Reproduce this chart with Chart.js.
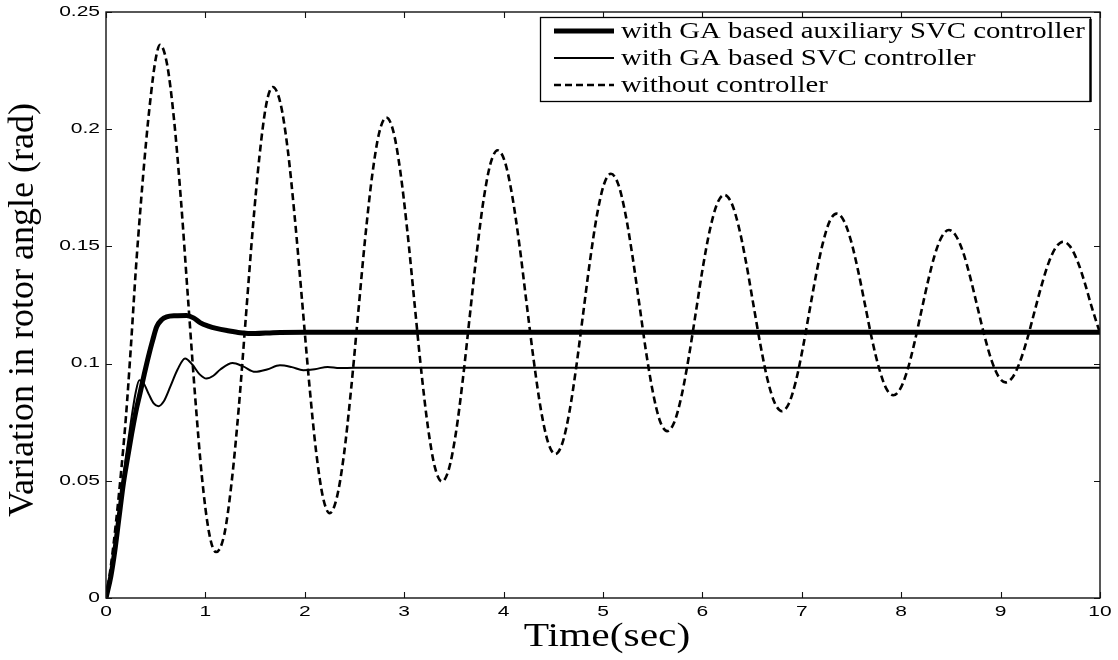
<!DOCTYPE html>
<html>
<head>
<meta charset="utf-8">
<script src="https://cdn.jsdelivr.net/npm/chart.js@4.4.1/dist/chart.umd.min.js"></script>
<style>
  html, body { margin: 0; padding: 0; background: #fff; }
  canvas { display: block; }
</style>
</head>
<body>
<canvas id="c" width="1118" height="660"></canvas>
<script>
// Axis ticks and labels
const xTicks = [0, 1, 2, 3, 4, 5, 6, 7, 8, 9, 10];
const xTickLabels = ['0', '1', '2', '3', '4', '5', '6', '7', '8', '9', '10'];
const yTicks = [0, 0.05, 0.1, 0.15, 0.2, 0.25];
const yTickLabels = ['0', '0.05', '0.1', '0.15', '0.2', '0.25'];
const xTitle = 'Time(sec)';
const yTitle = 'Variation in rotor angle (rad)';
const seriesNames = [
  'with GA based auxiliary SVC controller',
  'with GA based SVC controller',
  'without controller'
];

// Rotor angle deviation with the auxiliary SVC controller
const tAux = [0, 0.05, 0.09, 0.13, 0.175, 0.22, 0.258, 0.3, 0.342, 0.385, 0.426, 0.47, 0.51, 0.56, 0.61, 0.7, 0.81,
  0.88, 0.946, 1.03, 1.11, 1.23, 1.35, 1.5, 1.68, 2.0, 2.5, 3, 4, 5, 6, 7, 8, 9, 10];
const vAux = [0, 0.0095, 0.0205, 0.034, 0.0489, 0.0605, 0.070, 0.0795, 0.0873, 0.0955, 0.1029, 0.110, 0.1157, 0.1187,
  0.1199, 0.1204, 0.1205, 0.1195, 0.1175, 0.1160, 0.1150, 0.1140, 0.1132, 0.1128, 0.1132, 0.1134, 0.1134, 0.1134,
  0.1134, 0.1134, 0.1134, 0.1134, 0.1134, 0.1134, 0.1134];

// Rotor angle deviation with the SVC controller
const tSvc = [0, 0.05, 0.1, 0.15, 0.2, 0.25, 0.3, 0.335, 0.38, 0.43, 0.48, 0.527, 0.58, 0.65, 0.72, 0.795, 0.87, 0.94,
  1.01, 1.08, 1.15, 1.274, 1.38, 1.5, 1.62, 1.75, 1.87, 1.985, 2.1, 2.23, 2.35, 2.5, 3, 4, 5, 6, 7, 8, 9, 10];
const vSvc = [0, 0.011, 0.026, 0.043, 0.06, 0.075, 0.088, 0.0929, 0.0915, 0.087, 0.083, 0.0818, 0.0838, 0.0905, 0.0975,
  0.1022, 0.0995, 0.0955, 0.0936, 0.0948, 0.0975, 0.1003, 0.0988, 0.0965, 0.0975, 0.0993, 0.0985, 0.0972, 0.0976,
  0.0986, 0.0981, 0.0982, 0.0982, 0.0982, 0.0982, 0.0982, 0.0982, 0.0982, 0.0982, 0.0982];

// Rotor angle deviation without any controller
const tNone = [0, 0.05, 0.1, 0.15, 0.2, 0.25, 0.3, 0.35, 0.4, 0.45, 0.5, 0.543,
  0.614, 0.684, 0.755, 0.825, 0.896, 0.966, 1.037, 1.107,
  1.19, 1.262, 1.335, 1.405, 1.475, 1.545, 1.612, 1.677,
  1.755, 1.828, 1.9, 1.972, 2.043, 2.113, 2.182, 2.25,
  2.321, 2.393, 2.464, 2.535, 2.606, 2.678, 2.749, 2.82,
  2.89, 2.96, 3.03, 3.10, 3.17, 3.24, 3.31, 3.38,
  3.45, 3.52, 3.59, 3.66, 3.73, 3.80, 3.87, 3.94,
  4.013, 4.085, 4.158, 4.23, 4.303, 4.375, 4.448, 4.52,
  4.59, 4.66, 4.73, 4.80, 4.87, 4.94, 5.01, 5.08,
  5.151, 5.221, 5.292, 5.363, 5.433, 5.504, 5.574, 5.645,
  5.717, 5.789, 5.861, 5.933, 6.004, 6.076, 6.148, 6.22,
  6.293, 6.365, 6.438, 6.51, 6.583, 6.655, 6.728, 6.80,
  6.869, 6.938, 7.006, 7.075, 7.144, 7.213, 7.281, 7.35,
  7.421, 7.493, 7.564, 7.635, 7.706, 7.778, 7.849, 7.92,
  7.99, 8.06, 8.13, 8.20, 8.27, 8.34, 8.41, 8.48,
  8.551, 8.623, 8.694, 8.765, 8.836, 8.908, 8.979, 9.05,
  9.123, 9.195, 9.268, 9.34, 9.413, 9.485, 9.558, 9.63,
  9.701, 9.772, 9.843, 9.914, 10.0];
const vNone = [0, 0.014, 0.032, 0.053, 0.077, 0.107, 0.14, 0.168, 0.193, 0.214, 0.230, 0.236,
  0.2278, 0.2043, 0.1692, 0.1278, 0.0864, 0.0513, 0.0278, 0.0196,
  0.0271, 0.0487, 0.0808, 0.1188, 0.1568, 0.1889, 0.2105, 0.218,
  0.2111, 0.1914, 0.1619, 0.1271, 0.0923, 0.0628, 0.0431, 0.0362,
  0.0426, 0.0609, 0.0883, 0.1206, 0.1529, 0.1803, 0.1986, 0.205,
  0.1992, 0.1823, 0.1572, 0.1274, 0.0976, 0.0725, 0.0556, 0.0497,
  0.0551, 0.0704, 0.0933, 0.1204, 0.1474, 0.1703, 0.1856, 0.191,
  0.1861, 0.1720, 0.1510, 0.1262, 0.1014, 0.0804, 0.0663, 0.0614,
  0.0659, 0.0789, 0.0983, 0.1212, 0.1441, 0.1635, 0.1765, 0.181,
  0.1768, 0.1649, 0.1471, 0.1261, 0.1051, 0.0873, 0.0754, 0.0712,
  0.0750, 0.0860, 0.1023, 0.1216, 0.1409, 0.1572, 0.1682, 0.172,
  0.1685, 0.1585, 0.1435, 0.1259, 0.1082, 0.0932, 0.0832, 0.0797,
  0.0829, 0.0921, 0.1057, 0.1219, 0.1380, 0.1516, 0.1608, 0.164,
  0.1611, 0.1527, 0.1401, 0.1253, 0.1104, 0.0979, 0.0894, 0.0865,
  0.0892, 0.0968, 0.1083, 0.1218, 0.1352, 0.1467, 0.1543, 0.157,
  0.1545, 0.1475, 0.1369, 0.1245, 0.1121, 0.1015, 0.0945, 0.092,
  0.0943, 0.1008, 0.1105, 0.122, 0.1335, 0.1432, 0.1497, 0.152,
  0.1499, 0.1439, 0.1350, 0.1245, 0.113];

const toPoints = (t, v) => t.map((x, i) => ({ x: x, y: v[i] }));

const INK = '#000';
const styles = [
  { width: 5, dash: [] },
  { width: 2, dash: [] },
  { width: 2.6, dash: [7, 4] }
];

// Draws text stretched horizontally around its anchor
function wideText(ctx, text, x, y, sx, align) {
  ctx.save();
  ctx.translate(x, y);
  ctx.scale(sx, 1);
  ctx.textAlign = align;
  ctx.fillText(text, 0, 0);
  ctx.restore();
}

const framePlugin = {
  id: 'frame',
  afterDatasetsDraw(chart) {
    const { ctx, chartArea: a, scales: { x, y } } = chart;
    ctx.save();
    // axes box
    ctx.strokeStyle = '#111';
    ctx.lineWidth = 1.4;
    ctx.strokeRect(a.left, a.top, a.right - a.left, a.bottom - a.top);
    // inward tick marks on all four sides
    ctx.lineWidth = 1.1;
    const len = 6;
    ctx.beginPath();
    xTicks.forEach(v => {
      const px = Math.round(x.getPixelForValue(v)) + 0.5;
      ctx.moveTo(px, a.bottom); ctx.lineTo(px, a.bottom - len);
      ctx.moveTo(px, a.top); ctx.lineTo(px, a.top + len);
    });
    yTicks.forEach(v => {
      const py = Math.round(y.getPixelForValue(v)) + 0.5;
      ctx.moveTo(a.left, py); ctx.lineTo(a.left + len, py);
      ctx.moveTo(a.right, py); ctx.lineTo(a.right - len, py);
    });
    ctx.stroke();

    // tick labels
    ctx.fillStyle = INK;
    ctx.font = '14px "Liberation Sans", Arial, sans-serif';
    ctx.textBaseline = 'middle';
    xTicks.forEach((v, i) => {
      wideText(ctx, xTickLabels[i], x.getPixelForValue(v), a.bottom + 14, 1.5, 'center');
    });
    yTicks.forEach((v, i) => {
      wideText(ctx, yTickLabels[i], a.left - 6, y.getPixelForValue(v), 1.5, 'right');
    });

    // axis titles
    ctx.font = '34px "Liberation Serif", "Times New Roman", serif';
    ctx.textBaseline = 'middle';
    wideText(ctx, xTitle, (a.left + a.right) / 2 + 4, 637, 1.22, 'center');
    ctx.save();
    ctx.translate(24, 310);
    ctx.rotate(-Math.PI / 2);
    ctx.font = '36px "Liberation Serif", "Times New Roman", serif';
    ctx.textAlign = 'center';
    ctx.fillText(yTitle, 0, 0);
    ctx.restore();

    // legend
    const L = { left: 540, top: 17, right: 1090, bottom: 101 };
    ctx.fillStyle = '#fff';
    ctx.fillRect(L.left, L.top, L.right - L.left, L.bottom - L.top);
    ctx.strokeStyle = '#000';
    ctx.lineWidth = 1.3;
    ctx.strokeRect(L.left + 0.5, L.top + 0.5, L.right - L.left, L.bottom - L.top);
    ctx.lineWidth = 2.4;
    ctx.beginPath();
    ctx.moveTo(L.right + 0.5, L.top + 2); ctx.lineTo(L.right + 0.5, L.bottom + 1);
    ctx.stroke();
    const rows = [31, 58, 85];
    ctx.font = '23px "Liberation Serif", "Times New Roman", serif';
    ctx.textBaseline = 'middle';
    seriesNames.forEach((name, i) => {
      const st = styles[i];
      ctx.strokeStyle = INK;
      ctx.lineWidth = st.width;
      ctx.setLineDash(st.dash);
      ctx.beginPath();
      ctx.moveTo(554, rows[i]); ctx.lineTo(614, rows[i]);
      ctx.stroke();
      ctx.setLineDash([]);
      ctx.fillStyle = INK;
      wideText(ctx, name, 621, rows[i] + 1, 1.25, 'left');
    });
    ctx.restore();
  }
};

const datasets = [[tAux, vAux], [tSvc, vSvc], [tNone, vNone]].map((d, i) => ({
  label: seriesNames[i],
  data: toPoints(d[0], d[1]),
  borderColor: INK,
  borderWidth: styles[i].width,
  borderDash: styles[i].dash,
  pointRadius: 0,
  fill: false,
  cubicInterpolationMode: 'monotone',
  order: i === 2 ? 0 : 1
}));

new Chart(document.getElementById('c').getContext('2d'), {
  type: 'line',
  data: { datasets: datasets },
  options: {
    responsive: false,
    animation: false,
    devicePixelRatio: 1,
    layout: { padding: { left: 0, right: 18, top: 12, bottom: 0 } },
    plugins: { legend: { display: false }, tooltip: { enabled: false } },
    scales: {
      x: {
        type: 'linear', min: 0, max: 10,
        afterBuildTicks: s => { s.ticks = xTicks.map(v => ({ value: v })); },
        ticks: { display: false },
        grid: { display: false },
        border: { display: false },
        afterFit: s => { s.height = 62; }
      },
      y: {
        type: 'linear', min: 0, max: 0.25,
        afterBuildTicks: s => { s.ticks = yTicks.map(v => ({ value: v })); },
        ticks: { display: false },
        grid: { display: false },
        border: { display: false },
        afterFit: s => { s.width = 106; }
      }
    }
  },
  plugins: [framePlugin]
});
</script>
</body>
</html>
